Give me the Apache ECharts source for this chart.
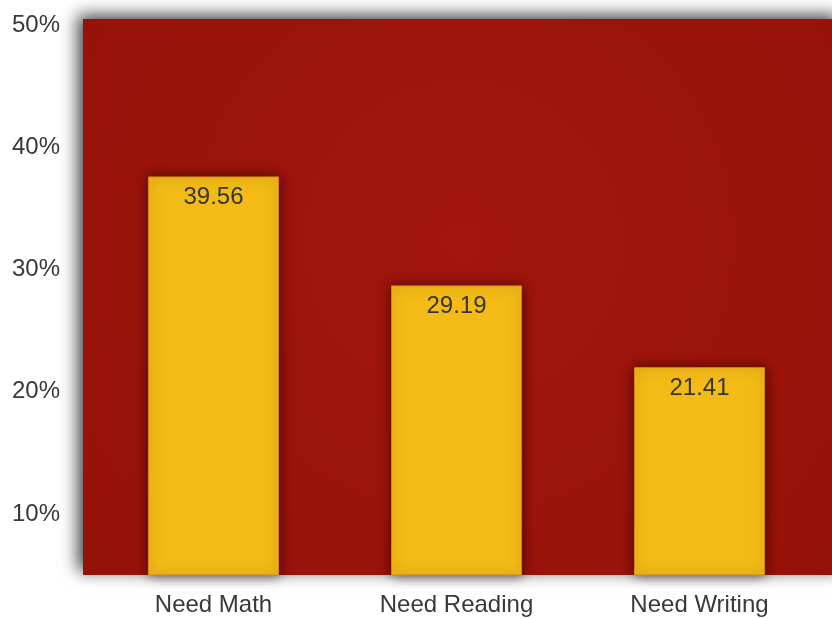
<!DOCTYPE html>
<html>
<head>
<meta charset="utf-8">
<script src="https://cdn.jsdelivr.net/npm/echarts@6/dist/echarts.min.js"></script>
<style>
  html, body { margin: 0; padding: 0; background: #fff; }
  #chart { width: 832px; height: 618px; }
</style>
</head>
<body>
<div id="chart"></div>
<script>
// data
const categories = ["Need Math", "Need Reading", "Need Writing"];
const values = [39.56, 29.19, 21.41];
const yTicks = [10, 20, 30, 40, 50];

const chart = echarts.init(document.getElementById("chart"));

const font = "'Liberation Sans', Arial, sans-serif";

const option = {
  animation: false,
  // red panel behind the plot, with its grey shadow
  graphic: [
    {
      type: "rect",
      z: -10,
      shape: { x: 83, y: 19, width: 760, height: 556 },
      style: {
        fill: new echarts.graphic.RadialGradient(0.5, 0.4, 0.9, [
          { offset: 0, color: "#a2160b" },
          { offset: 1, color: "#951209" },
        ]),
        shadowBlur: 16,
        shadowColor: "rgba(0,0,0,0.75)",
        shadowOffsetX: -5,
        shadowOffsetY: -4,
      },
    },
  ],
  grid: { left: 92, right: 11, top: 19, bottom: 43 },
  xAxis: {
    type: "category",
    data: categories,
    axisLine: { show: false },
    axisTick: { show: false },
    axisLabel: {
      color: "#383838",
      fontSize: 24,
      fontFamily: font,
      margin: 18,
    },
  },
  yAxis: [
    {
      // visible percent axis
      type: "value",
      min: 5,
      max: 50.5,
      splitLine: { show: false },
      axisLine: { show: false },
      axisTick: { show: false },
      axisLabel: {
        customValues: yTicks,
        formatter: "{value}%",
        color: "#383838",
        fontSize: 24,
        fontFamily: font,
        margin: 32,
      },
    },
    {
      // bars scale (hidden), fitted to where the bars sit in the picture
      type: "value",
      min: 1.63,
      max: 54.54,
      show: false,
      splitLine: { show: false },
    },
  ],
  series: [
    {
      type: "bar",
      yAxisIndex: 1,
      data: values,
      barWidth: 131,
      itemStyle: {
        color: "#f4bb16",
        borderColor: "#d4861c",
        borderWidth: 1,
        shadowBlur: 12,
        shadowColor: "rgba(40,0,0,0.7)",
      },
      label: {
        show: true,
        position: "insideTop",
        distance: 9,
        color: "#363636",
        fontSize: 24,
        fontFamily: font,
        formatter: (p) => p.value.toFixed(2),
      },
    },
  ],
};

chart.setOption(option);
</script>
</body>
</html>
